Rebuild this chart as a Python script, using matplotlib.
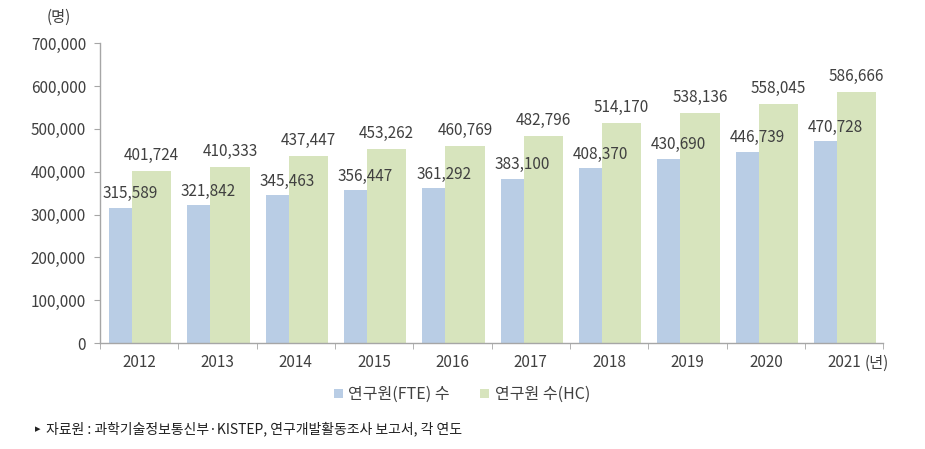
import matplotlib
matplotlib.use("Agg")
import matplotlib.pyplot as plt
import numpy as np

plt.rcParams['font.family'] = ['Noto Sans CJK KR', 'DejaVu Sans']

years = ['2012', '2013', '2014', '2015', '2016', '2017', '2018', '2019', '2020', '2021']
fte = [315589, 321842, 345463, 356447, 361292, 383100, 408370, 430690, 446739, 470728]
hc = [401724, 410333, 437447, 453262, 460769, 482796, 514170, 538136, 558045, 586666]
yticks = [0, 100000, 200000, 300000, 400000, 500000, 600000, 700000]

blue = '#B9CDE5'
green = '#D7E4BD'
txt = '#404040'
axc = '#A6A6A6'
fs = 11

fig = plt.figure(figsize=(9.25, 4.49), dpi=100)
ax = fig.add_axes([0.108, 0.236, 0.847, 0.6676])

x = np.arange(len(years))
wb = 0.295
wg = 0.50
xb = x - 0.385 + wb / 2
xg = x - 0.09 + wg / 2
ax.bar(xb, fte, width=wb, color=blue, label='연구원(FTE) 수', zorder=2)
ax.bar(xg, hc, width=wg, color=green, label='연구원 수(HC)', zorder=2)

for xi, v in zip(xb, fte):
    ax.annotate(f'{v:,}', (xi, v), xytext=(7, 4), textcoords='offset points',
                ha='center', va='bottom', fontsize=fs, color=txt)
for xi, v in zip(xg, hc):
    ax.annotate(f'{v:,}', (xi, v), xytext=(0, 5), textcoords='offset points',
                ha='center', va='bottom', fontsize=fs, color=txt)

ax.set_xlim(-0.5, len(years) - 0.5)
ax.set_ylim(0, 700000)
ax.set_yticks(yticks)
ax.set_yticklabels([f'{t:,}' for t in yticks], fontsize=fs, color=txt)
ax.set_xticks(x)
ax.set_xticklabels(years, fontsize=fs, color=txt)
ax.set_xticks(np.arange(-0.5, len(years), 1.0), minor=True)
ax.tick_params(axis='x', which='major', length=0, pad=8)
ax.tick_params(axis='x', which='minor', length=4, color=axc, direction='out')
ax.tick_params(axis='y', length=4, color=axc, pad=6)

for s in ['top', 'right']:
    ax.spines[s].set_visible(False)
for s in ['left', 'bottom']:
    ax.spines[s].set_color(axc)
    ax.spines[s].set_linewidth(1.0)

fig.text(0.064, 0.962, '(명)', fontsize=fs, color=txt, ha='center', va='center')
fig.text(0.935, 0.19, '(년)', fontsize=fs, color=txt, ha='left', va='center')

ax.legend(loc='center', bbox_to_anchor=(0.462, -0.172), ncol=2, frameon=False,
          fontsize=11.5, handlelength=0.55, handleheight=0.55, handletextpad=0.35,
          columnspacing=1.9, labelcolor=txt)

fig.text(0.038, 0.045, '▸', fontsize=8, color='#202020', ha='left', va='center',
         family=['DejaVu Sans'])
fig.text(0.05, 0.045, '자료원 : 과학기술정보통신부·KISTEP, 연구개발활동조사 보고서, 각 연도',
         fontsize=10, color='#202020', ha='left', va='center', fontweight='medium',
         family=['Noto Sans CJK KR', 'DejaVu Sans'])

fig.savefig('out.png', dpi=100, facecolor='white')
